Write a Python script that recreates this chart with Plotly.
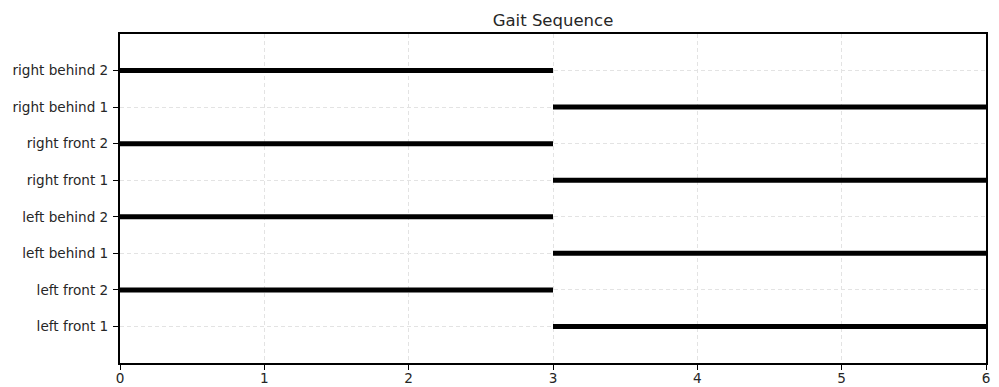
import plotly.graph_objects as go

categories = ["left front 1", "left front 2", "left behind 1", "left behind 2",
              "right front 1", "right front 2", "right behind 1", "right behind 2"]
starts = [3, 0, 3, 0, 3, 0, 3, 0]
ends = [6, 3, 6, 3, 6, 3, 6, 3]
x_ticks = [0, 1, 2, 3, 4, 5, 6]

fig = go.Figure()
for i, (cat, s, e) in enumerate(zip(categories, starts, ends)):
    fig.add_trace(go.Scatter(x=[s, e], y=[i, i], mode="lines",
                             line=dict(color="black", width=5),
                             name=cat, showlegend=False, hoverinfo="skip"))

W, H = 991, 379
font = dict(family="DejaVu Sans", size=13.6, color="#262626")
fig.update_layout(
    width=W, height=H,
    margin=dict(l=112, r=13, t=26, b=24, pad=0),
    paper_bgcolor="white", plot_bgcolor="white",
    font=font,
    title=dict(text="Gait Sequence", x=0.5, xref="paper", xanchor="center",
               y=1 - 12 / H, yref="container", yanchor="middle",
               font=dict(family="DejaVu Sans", size=16.5, color="#262626")),
)
fig.update_xaxes(range=[0, 6], tickvals=x_ticks, ticktext=[str(t) for t in x_ticks],
                 showline=True, linecolor="black", linewidth=2, mirror=True,
                 ticks="outside", ticklen=5, tickcolor="black", tickwidth=1,
                 showgrid=True, gridcolor="#e3e3e3", griddash="4px,3px", gridwidth=1,
                 zeroline=False, tickfont=font, automargin=False, ticklabelstandoff=-3)
fig.update_yaxes(range=[-1, 8], tickvals=list(range(len(categories))), ticktext=categories,
                 showline=True, linecolor="black", linewidth=2, mirror=True,
                 ticks="outside", ticklen=5, tickcolor="black", tickwidth=1,
                 showgrid=True, gridcolor="#e3e3e3", griddash="4px,3px", gridwidth=1,
                 zeroline=False, tickfont=font, automargin=False, ticklabelstandoff=2)
fig.write_html("out.html")
